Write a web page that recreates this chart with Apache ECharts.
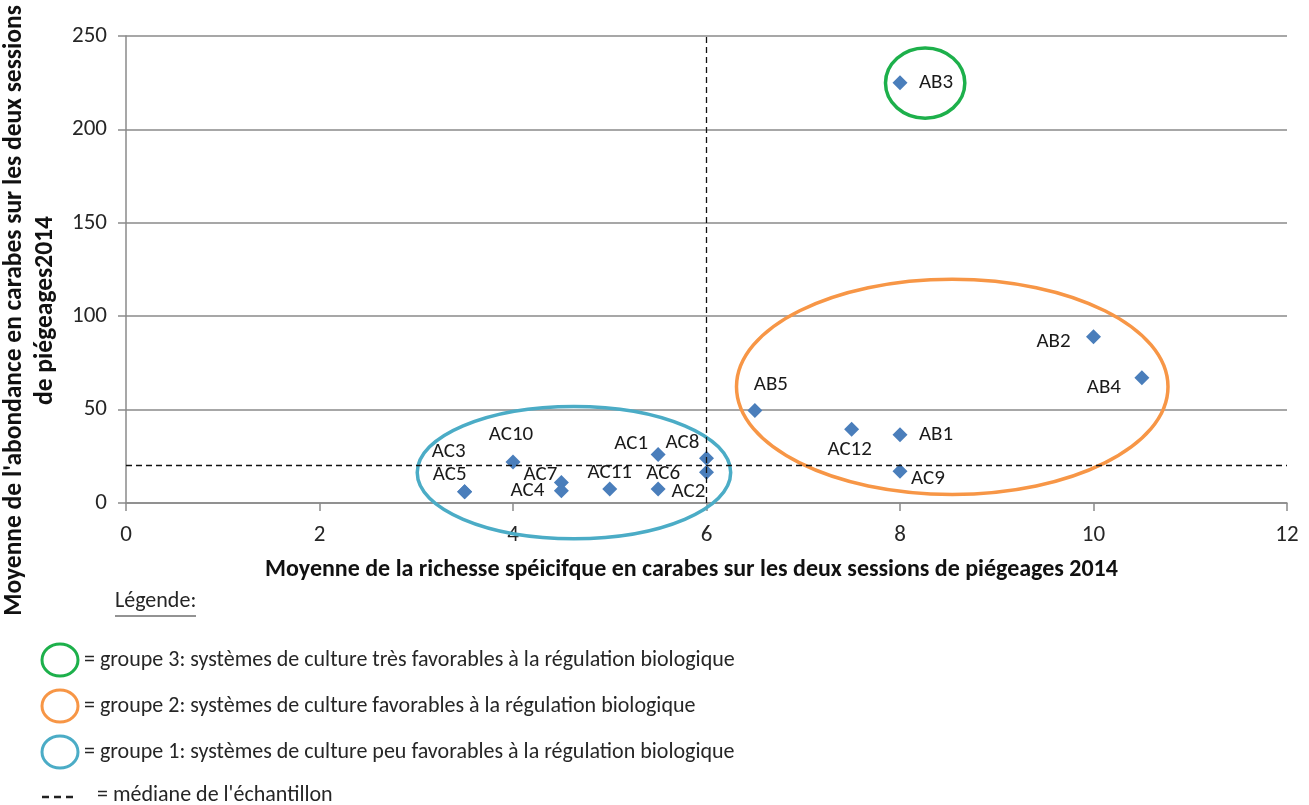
<!DOCTYPE html>
<html>
<head>
<meta charset="utf-8">
<script src="https://cdn.jsdelivr.net/npm/echarts@6/dist/echarts.min.js"></script>
<style>
  html, body { margin: 0; padding: 0; background: #fff; }
  #draw { width: 1309px; height: 805px; }
</style>
</head>
<body>
<div id="draw"></div>
<script>
  // stations : richesse moyenne (x) / abondance moyenne (y)
  var names = ['AB3', 'AB2', 'AB4', 'AB5', 'AC12', 'AB1', 'AC9', 'AC3', 'AC5', 'AC10', 'AC7', 'AC4', 'AC11', 'AC1', 'AC6', 'AC8', 'AC2']
  var richesse = [8, 10, 10.5, 6.5, 7.5, 8, 8, 3.5, 3.5, 4, 4.5, 4.5, 5, 5.5, 5.5, 6, 6]
  var abondance = [225, 89, 67, 49.5, 39.5, 36.5, 17, 6, 6, 22, 11, 6.5, 7.5, 26, 7.5, 24, 16.5]

  // médianes de l'échantillon
  var medianeX = 6
  var medianeY = 20

  // groupes : centre (x, y) et demi-axes (rx, ry) en unités des axes
  var groupes = ['groupe 3', 'groupe 2', 'groupe 1']
  var groupeCentreX = [8.26, 8.54, 4.63]
  var groupeCentreY = [224.8, 62.2, 16.3]
  var groupeRx = [0.41, 2.23, 1.62]
  var groupeRy = [18.8, 57.6, 35.4]

  var xTicks = [0, 2, 4, 6, 8, 10, 12]
  var yTicks = [0, 50, 100, 150, 200, 250]

  // décalage des étiquettes (px) par rapport au losange
  var labelOffset = {
    AB3: [36, 0], AB2: [-40, 5], AB4: [-38, 10], AB5: [16, -26], AC12: [-2, 21],
    AB1: [36, 0], AC9: [28, 8], AC3: [-16, -40], AC5: [-15, -17], AC10: [-2, -27],
    AC7: [-21, -8], AC4: [-34, 0], AC11: [0, -16], AC1: [-27, -11], AC6: [5, -15],
    AC8: [-24, -15], AC2: [-18, 20]
  }
  var groupeColors = ['#1db04b', '#f79646', '#4bacc6']
  var font = 'Carlito, "Liberation Sans Narrow", "Open Sans", sans-serif'

  var points = []
  for (var i = 0; i < names.length; i++) {
    points.push({
      name: names[i],
      value: [richesse[i], abondance[i]],
      label: { offset: labelOffset[names[i]] }
    })
  }
  var ellipses = []
  for (var j = 0; j < groupes.length; j++) {
    ellipses.push({ name: groupes[j], value: [groupeCentreX[j], groupeCentreY[j], groupeRx[j], groupeRy[j]] })
  }

  var myChart = echarts.init(document.getElementById('draw'))
  myChart.setOption({
    animation: false,
    grid: { left: 126, right: 22, top: 36, bottom: 302, outerBoundsMode: 'none', containLabel: false },
    xAxis: {
      type: 'value',
      min: xTicks[0],
      max: xTicks[xTicks.length - 1],
      interval: xTicks[1] - xTicks[0],
      name: 'Moyenne de la richesse spéicifque en carabes sur les deux sessions de piégeages 2014',
      nameLocation: 'middle',
      nameGap: 55,
      nameTextStyle: { fontFamily: font, fontWeight: 'bold', fontSize: 24, color: '#111', padding: [0, 30, 0, 0] },
      axisLine: { show: true, lineStyle: { color: '#8a8a8a', width: 1.5 } },
      axisTick: { show: true, length: 8, lineStyle: { color: '#8a8a8a', width: 1.5 } },
      axisLabel: { margin: 21, fontFamily: font, fontSize: 23, color: '#262626' },
      splitLine: { show: false }
    },
    yAxis: {
      type: 'value',
      min: yTicks[0],
      max: yTicks[yTicks.length - 1],
      interval: yTicks[1] - yTicks[0],
      name: "Moyenne de l'abondance en carabes sur les deux sessions\nde piégeages2014",
      nameLocation: 'middle',
      nameGap: 64,
      nameTextStyle: { fontFamily: font, fontWeight: 'bold', fontSize: 25.5, color: '#111', lineHeight: 31, padding: [0, 82, 0, 0] },
      axisLine: { show: true, lineStyle: { color: '#8a8a8a', width: 1.5 } },
      axisTick: { show: true, length: 8, lineStyle: { color: '#8a8a8a', width: 1.5 } },
      axisLabel: { margin: 19, fontFamily: font, fontSize: 23, color: '#262626' },
      splitLine: { show: true, lineStyle: { color: '#8a8a8a', width: 1.5 } }
    },
    series: [
      {
        type: 'custom',
        name: 'groupes',
        z: 3,
        renderItem: function (params, api) {
          var c = api.coord([api.value(0), api.value(1)])
          var s = api.size([api.value(2), api.value(3)])
          return {
            type: 'ellipse',
            shape: { cx: c[0], cy: c[1], rx: s[0], ry: s[1] },
            style: { fill: 'none', stroke: groupeColors[params.dataIndex], lineWidth: 3.5 }
          }
        },
        data: ellipses
      },
      {
        type: 'scatter',
        name: 'stations',
        z: 4,
        symbol: 'diamond',
        symbolSize: [15, 15],
        itemStyle: { color: '#4a7ebb', opacity: 1 },
        label: {
          show: true,
          position: 'inside',
          formatter: '{b}',
          fontFamily: font,
          fontSize: 21,
          color: '#1a1a1a'
        },
        data: points,
        markLine: {
          silent: true,
          symbol: 'none',
          label: { show: false },
          lineStyle: { color: '#111', type: [6, 4], width: 1.3 },
          data: [{ xAxis: medianeX }, { yAxis: medianeY }]
        }
      }
    ],
    graphic: [
      { type: 'text', left: 115, top: 590, style: { text: 'Légende:', fontFamily: font, fontSize: 22, fill: '#262626' } },
      { type: 'line', shape: { x1: 115, y1: 616, x2: 196, y2: 616 }, style: { stroke: '#262626', lineWidth: 1 } },
      { type: 'ellipse', shape: { cx: 60, cy: 660, rx: 18, ry: 16 }, style: { fill: 'none', stroke: groupeColors[0], lineWidth: 3 } },
      { type: 'ellipse', shape: { cx: 60, cy: 706, rx: 18, ry: 16 }, style: { fill: 'none', stroke: groupeColors[1], lineWidth: 3 } },
      { type: 'ellipse', shape: { cx: 60, cy: 752, rx: 18, ry: 16 }, style: { fill: 'none', stroke: groupeColors[2], lineWidth: 3 } },
      { type: 'text', x: 84, y: 660, style: { text: '= groupe 3: systèmes de culture très favorables à la régulation biologique', fontFamily: font, fontSize: 22, fill: '#262626', verticalAlign: 'middle' } },
      { type: 'text', x: 84, y: 706, style: { text: '= groupe 2: systèmes de culture favorables à la régulation biologique', fontFamily: font, fontSize: 22, fill: '#262626', verticalAlign: 'middle' } },
      { type: 'text', x: 84, y: 752, style: { text: '= groupe 1: systèmes de culture peu favorables à la régulation biologique', fontFamily: font, fontSize: 22, fill: '#262626', verticalAlign: 'middle' } },
      { type: 'line', shape: { x1: 42, y1: 797, x2: 78, y2: 797 }, style: { stroke: '#222', lineWidth: 2.5, lineDash: [7, 5] } },
      { type: 'text', x: 97, y: 795, style: { text: "= médiane de l'échantillon", fontFamily: font, fontSize: 22, fill: '#262626', verticalAlign: 'middle' } }
    ]
  })
</script>
</body>
</html>
